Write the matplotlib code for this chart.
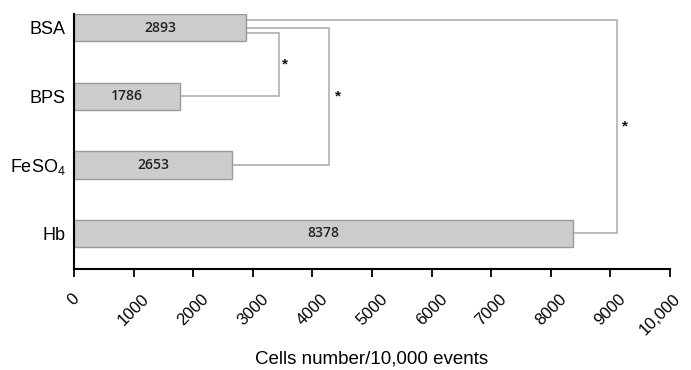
import matplotlib
matplotlib.use("Agg")
import matplotlib.pyplot as plt
from matplotlib.transforms import ScaledTranslation

categories = ["BSA", "BPS", r"FeSO$_\mathregular{4}$", "Hb"]
values = [2893, 1786, 2653, 8378]
xticks = [0, 1000, 2000, 3000, 4000, 5000, 6000, 7000, 8000, 9000, 10000]
xticklabels = ["0", "1000", "2000", "3000", "4000", "5000", "6000", "7000", "8000", "9000", "10,000"]
xlabel = "Cells number/10,000 events"

# significance brackets: (from index, to index, bracket x, start y offset, star x)
brackets = [(0, 1, 3434, -0.07, 3540), (0, 2, 4276, -0.01, 4430), (0, 3, 9108, 0.11, 9245)]

plt.rcParams['font.family'] = ['Liberation Sans', 'DejaVu Sans']
plt.rcParams['mathtext.fontset'] = 'custom'
plt.rcParams['mathtext.rm'] = 'Liberation Sans'

fig = plt.figure(figsize=(6.91, 3.70), dpi=100)
ax = fig.add_axes([0.107, 0.273, 0.8625, 0.689])

n = len(categories)
ypos = [n - 1 - i for i in range(n)]
ax.barh(ypos, values, height=0.4, color="#cccccc", edgecolor="#9a9a9a", linewidth=1.0, zorder=2)
for y, v in zip(ypos, values):
    ax.text(v / 2, y, str(v), ha="center", va="center", fontsize=10, fontweight="semibold",
            family=["Open Sans", "DejaVu Sans"], color="#222222")

for i, j, bx, dy, sx in brackets:
    y1 = ypos[i] + dy
    y2 = ypos[j]
    ax.plot([values[i], bx, bx, values[j]], [y1, y1, y2, y2], color="#b0b0b0", lw=1.2, zorder=1,
            solid_joinstyle="miter")
    ax.text(sx, (y1 + y2) / 2, "*", ha="center", va="center", fontsize=11, fontweight="bold",
            color="#111111")

ax.set_xlim(0, 10000)
ax.set_ylim(-0.52, 3.2)
ax.set_yticks(ypos)
ax.set_yticklabels(categories, fontsize=13)
ax.tick_params(axis="y", length=0, pad=6)
ax.set_xticks(xticks)
ax.tick_params(axis="x", length=6, width=1.3, direction="out", pad=10)
labels = ax.set_xticklabels(xticklabels, rotation=45, ha="center", fontsize=12)
last = labels[-1]
last.set_transform(last.get_transform() + ScaledTranslation(-0.10, 0, fig.dpi_scale_trans))
ax.set_xlabel(xlabel, fontsize=13.5)
ax.xaxis.label.set_va("center")
ax.xaxis.set_label_coords(0.5, -(359 - 269) / 255)
for s in ["top", "right"]:
    ax.spines[s].set_visible(False)
for s in ["left", "bottom"]:
    ax.spines[s].set_linewidth(1.5)

fig.savefig("out.png", dpi=100)
